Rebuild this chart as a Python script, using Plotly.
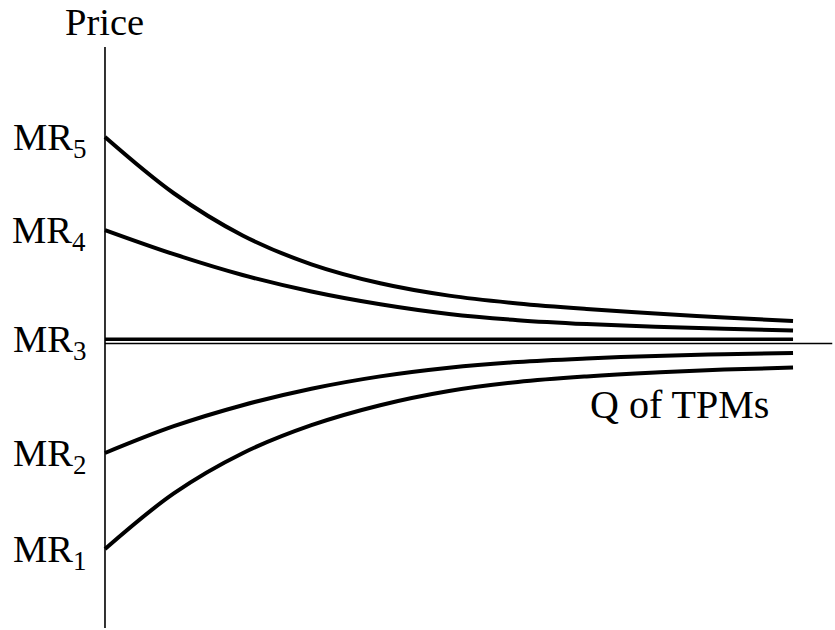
import plotly.graph_objects as go

# Quantity of TPMs (relative units)
q = [0, 10, 20, 30, 40, 50, 60, 70, 80, 90, 100]

# Marginal revenue curves (price, relative to MR3 = 0)
mr5 = [98.2, 70.9, 50.4, 36.4, 27.2, 21.2, 17.4, 14.7, 12.5, 10.6, 8.9]
mr4 = [53.0, 41.3, 31.2, 23.2, 17.0, 12.3, 9.3, 7.4, 6.1, 5.1, 4.3]
mr3 = [0, 0, 0, 0, 0, 0, 0, 0, 0, 0, 0]
mr2 = [-55.2, -42.2, -32.0, -24.0, -18.0, -13.8, -11.0, -9.3, -8.1, -7.2, -6.6]
mr1 = [-101.8, -74.8, -55.3, -41.7, -32.0, -25.1, -20.7, -18.0, -16.1, -14.7, -13.7]

series = [("MR<sub>5</sub>", mr5), ("MR<sub>4</sub>", mr4), ("MR<sub>3</sub>", mr3),
          ("MR<sub>2</sub>", mr2), ("MR<sub>1</sub>", mr1)]

FONT = "Liberation Serif, Times New Roman, serif"

fig = go.Figure()
for name, ys in series:
    fig.add_trace(go.Scatter(
        x=q, y=ys, mode="lines", name=name,
        line=dict(color="black", width=3.5 if ys is mr3 else 4, shape="spline", smoothing=1.0),
        hoverinfo="skip", showlegend=False,
    ))

annotations = []
for name, ys in series:
    annotations.append(dict(
        x=-2.4, y=ys[0], xref="x", yref="y", text=name, showarrow=False,
        xanchor="right", yanchor="middle", yshift=-3,
        font=dict(family=FONT, size=38.5, color="black"),
    ))
annotations.append(dict(
    x=0, y=141.9, xref="x", yref="y", text="Price", showarrow=False,
    xanchor="center", yanchor="bottom", yshift=2,
    font=dict(family=FONT, size=38.5, color="black"),
))
annotations.append(dict(
    x=83.5, y=-31.5, xref="x", yref="y", text="Q of TPMs", showarrow=False,
    xanchor="center", yanchor="middle",
    font=dict(family=FONT, size=40, color="black"),
))

shapes = [
    dict(type="line", xref="x", yref="y", x0=0, x1=0, y0=141.9, y1=-140.1,
         line=dict(color="black", width=1.6)),
    dict(type="line", xref="x", yref="y", x0=0, x1=105.7, y0=-2.04, y1=-2.04,
         line=dict(color="black", width=1.6)),
]

fig.update_layout(
    width=835, height=630,
    margin=dict(l=0, r=0, t=0, b=0),
    paper_bgcolor="white", plot_bgcolor="white",
    xaxis=dict(range=[-15.26, 106.10], visible=False, fixedrange=True),
    yaxis=dict(range=[-141.12, 164.71], visible=False, fixedrange=True),
    annotations=annotations, shapes=shapes,
    showlegend=False,
)

fig.write_html(
    "out.html",
    config={"displayModeBar": False},
    post_script="document.body.style.margin='0';document.body.style.overflow='hidden';",
)
